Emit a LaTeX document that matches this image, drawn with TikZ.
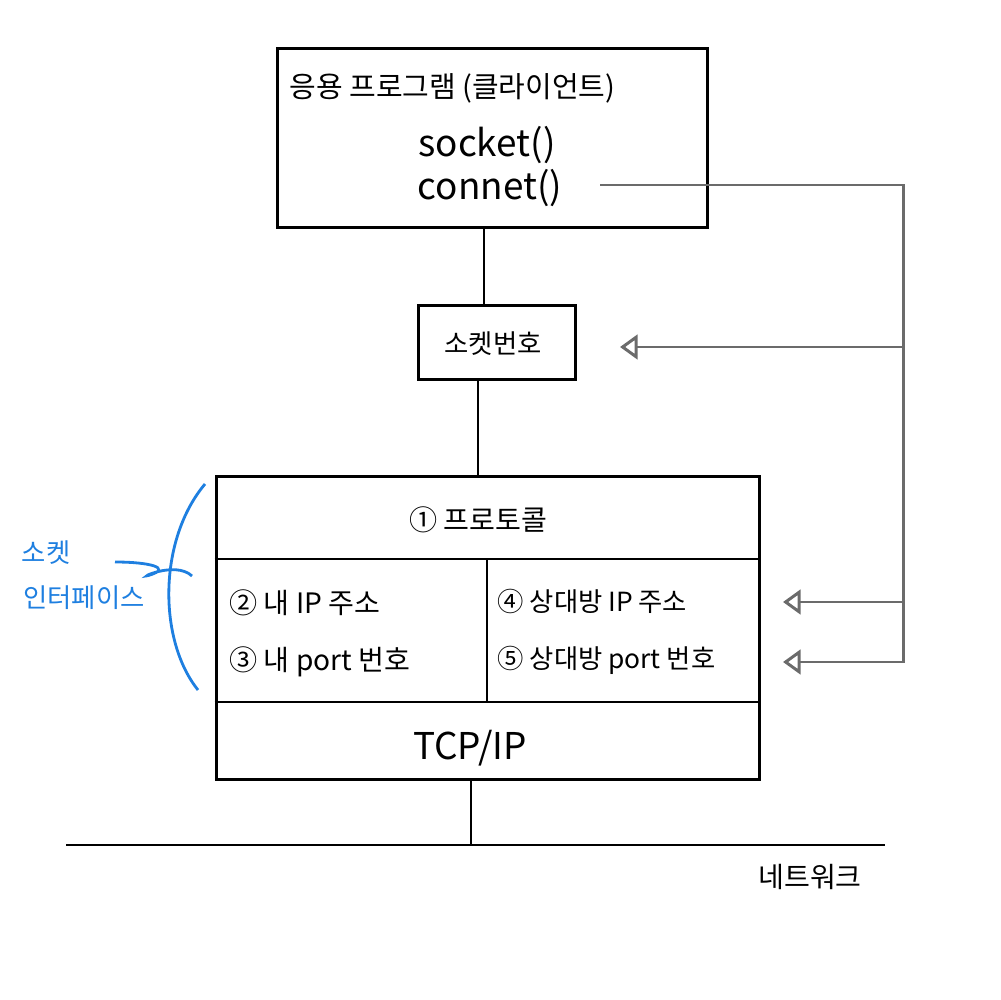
\documentclass[tikz,border=0pt]{standalone}
\usepackage{fontspec}
\setmainfont{Noto Sans CJK KR}
\usetikzlibrary{arrows.meta}
\definecolor{linkgray}{HTML}{6B6B6B}
\definecolor{noteblue}{HTML}{1E7FE0}

\begin{document}
\begin{tikzpicture}[x=0.02cm, y=-0.02cm, line width=1.7pt,
    box/.style={draw, line width=1.7pt, inner sep=0pt},
    txt/.style={font=\fontsize{15}{18}\selectfont, inner sep=0pt},
    big/.style={font=\fontsize{21}{24}\selectfont, inner sep=0pt},
    link/.style={draw=linkgray, line width=1.7pt},
    tip/.style={link, -{Triangle[open, length=10pt, width=14pt, line width=1.7pt]}}]
                \useasboundingbox (0,0) rectangle (1001,1000);
                % application box
                \node[box, minimum width=8.62cm, minimum height=3.6cm] (app) at (492.5,138) {};
                \node[txt, font=\fontsize{16.5}{19}\selectfont, anchor=west] (apptitle) at (288,88) {응용 프로그램 (클라이언트)};
                \node[big] (sock) at (487,145) {socket()};
                \node[big] (conn) at (490,188) {connet()};
                % socket number
                \node[box, minimum width=3.16cm, minimum height=1.5cm] (sockbox) at (497,342.5) {};
                \node[txt] (sockno) at (493,344) {소켓번호};
                % socket interface
                \node[box, minimum width=10.88cm, minimum height=6.08cm] (stack) at (488,628) {};
                \coordinate (r1) at (0,559);
                \coordinate (r2) at (0,702);
                \coordinate (mid) at (487,0);
                \draw (stack.west |- r1) -- (stack.east |- r1);
                \draw (stack.west |- r2) -- (stack.east |- r2);
                \draw (mid |- r1) -- (mid |- r2);
                \node[txt, font=\fontsize{16}{19}\selectfont] (proto) at (478,520) {① 프로토콜};
                \node[txt, font=\fontsize{16}{19}\selectfont, anchor=west] (myip) at (228,603) {② 내 IP 주소};
                \node[txt, font=\fontsize{16}{19}\selectfont, anchor=west] (myport) at (228,662) {③ 내 port 번호};
                \node[txt, anchor=west] (peerip) at (496,601) {④ 상대방 IP 주소};
                \node[txt, anchor=west] (peerport) at (496,660) {⑤ 상대방 port 번호};
                \node[big] (tcpip) at (470,748) {TCP/IP};
                % links between boxes
                \coordinate (lk1) at (484,0);
                \coordinate (lk2) at (478,0);
                \draw (app.south -| lk1) -- (sockbox.north -| lk1);
                \draw (sockbox.south -| lk2) -- (stack.north -| lk2);
                % network
                \coordinate (netL) at (66,845);
                \coordinate (netR) at (885,845);
                \coordinate (drop) at (471,845);
                \draw (netL) -- (netR);
                \draw (stack.south -| drop) -- (drop);
                \node[txt, font=\fontsize{16}{19}\selectfont] (net) at (810,877) {네트워크};
                % connect() feeds
                \coordinate (c0) at (600,185);
                \coordinate (bus1) at (903,185);
                \coordinate (bus2) at (903,662);
                \coordinate (b1) at (903,347);
                \coordinate (b2) at (903,602);
                \coordinate (t1) at (620,347);
                \coordinate (t2) at (783,602);
                \coordinate (t3) at (783,662);
                \draw[tip] (c0) -- (bus1) -- (bus2) -- (t3);
                \draw[tip] (b1) -- (t1);
                \draw[tip] (b2) -- (t2);
                % note
                \draw[noteblue, line width=1.6pt] (205,484) .. controls (158,540) and (158,640) .. (198,690);
                \draw[noteblue, line width=1.6pt] (115,562) .. controls (150,562) and (172,568) .. (150,575)
                    .. controls (135,580) and (175,560) .. (192,576);
                \node[txt, text=noteblue] (note1) at (46,553) {소켓};
                \node[txt, text=noteblue] (note2) at (84,598) {인터페이스};
            \end{tikzpicture}
\end{document}
